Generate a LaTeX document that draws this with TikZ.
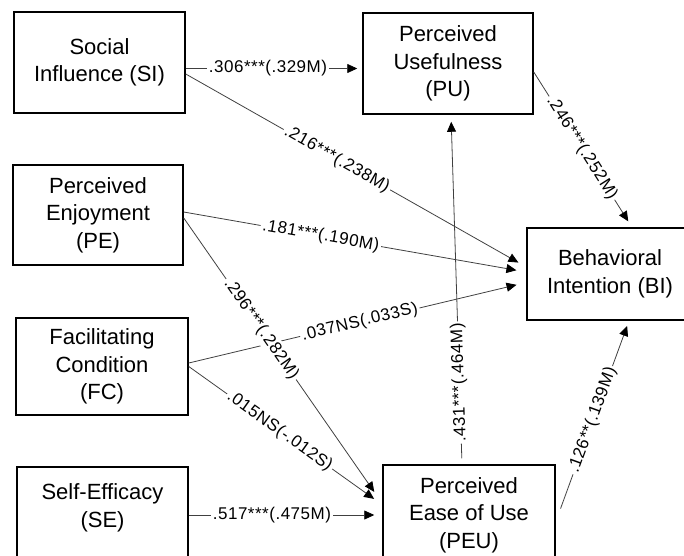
\documentclass[tikz,border=0pt]{standalone}
\usepackage{fontspec}
\setmainfont{Liberation Sans}
\newfontfamily\coeffont{Liberation Sans}[LetterSpace=3]
\usetikzlibrary{arrows.meta}

\begin{document}
\begin{tikzpicture}[x=1pt,y=-1pt,
  construct/.style={draw=black, line width=1.5pt, inner sep=0pt, align=center,
    font=\fontsize{22}{27.5}\selectfont},
  effect/.style={draw=black!75, line width=0.8pt,
    -{Triangle[length=10pt,width=9pt,color=black]}},
  coef/.style={font={\coeffont\fontsize{17}{20}\selectfont}, fill=white,
    inner sep=2pt, sloped}]
\useasboundingbox (0,0) rectangle (684,555);
% constructs
\node[construct, minimum width=171pt, minimum height=101pt] (SI) at (99.5,62.5) {Social\\Influence (SI)};
\node[construct, minimum width=170pt, minimum height=101pt] (PU) at (448,63.5) {Perceived\\Usefulness\\(PU)};
\node[construct, minimum width=170pt, minimum height=100pt] (PE) at (98,215) {Perceived\\Enjoyment\\(PE)};
\node[construct, minimum width=166pt, minimum height=92pt] (BI) at (610,274) {Behavioral\\Intention (BI)};
\node[construct, minimum width=172pt, minimum height=97pt] (FC) at (102,366.5) {Facilitating\\Condition\\(FC)};
\node[construct, minimum width=171pt, minimum height=100pt] (SE) at (102.5,517) {\parbox[c][66pt][t]{160pt}{\centering Self-Efficacy\\(SE)}};
\node[construct, minimum width=172pt, minimum height=100pt] (PEU) at (469,515) {Perceived\\Ease of Use\\(PEU)};
% paths
\draw[effect, shorten >=5pt] ([yshift=-6pt]SI.east) -- node[coef, pos=0.466] {.306***(.329M)} ([yshift=-6pt]SI.east -| PU.west);
\draw[effect, shorten >=9pt] ([yshift=-11.5pt]SI.east) -- node[coef, pos=0.444] {.216***(.238M)} ([yshift=7pt]BI.west);
\draw[effect, shorten >=10pt] ([yshift=3pt]PE.east) -- node[coef, pos=0.4] {.181***(.190M)} ([yshift=2pt]BI.west);
\draw[effect, shorten >=10pt] ([yshift=3.5pt]FC.east) -- node[coef, pos=0.507] {.037NS(.033S)} ([yshift=-8.5pt]BI.west);
\draw[effect, shorten >=14pt] ([yshift=-3pt]PE.east) -- node[coef, pos=0.39] {.296***(.282M)} ([yshift=11.6pt]PEU.west);
\draw[effect, shorten >=10pt] (FC.east) -- node[coef, pos=0.47] {.015NS(-.012S)} ([yshift=10.3pt]PEU.west);
\draw[effect, shorten >=8pt] (PEU.west -| SE.east) -- node[coef, pos=0.43] {.517***(.475M)} (PEU.west);
\draw[effect, shorten <=6pt, shorten >=7pt] ([xshift=-7pt]PEU.north) -- node[coef, allow upside down, pos=0.234] {.431***(.464M)} ([xshift=3pt]PU.south);
\draw[effect, shorten >=7pt] ([yshift=-8.5pt]PU.east) -- node[coef, pos=0.49] {.246***(.252M)} ([xshift=22pt]BI.north);
\draw[effect, shorten <=14pt, shorten >=5.5pt] ([yshift=-6.7pt]PEU.east) -- node[coef, pos=0.505] {.126**(.139M)} ([xshift=19pt]BI.south);
\end{tikzpicture}
\end{document}
